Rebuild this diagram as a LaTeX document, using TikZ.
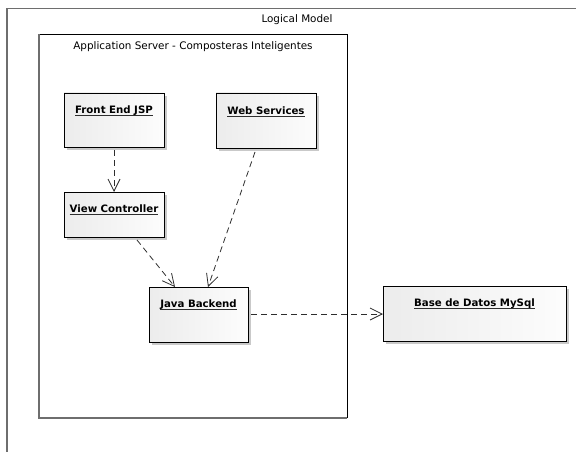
\documentclass[tikz,border=0pt]{standalone}
\usepackage{fontspec}
\setmainfont{DejaVu Sans}
\usetikzlibrary{arrows.meta,shadows,calc}
\definecolor{framegray}{HTML}{6E6E6E}
\definecolor{linegray}{HTML}{2E2E2E}
% bold text with a heavy underline
\newcommand\ulabel[1]{\setbox0\hbox{\bfseries #1}\rlap{\usebox0}\textcolor{linegray}{\rule[-2.6pt]{\wd0}{1.2pt}}}
\tikzset{
  comp/.style={draw=black, line width=0.8pt, inner sep=0pt, outer sep=0pt,
    left color=gray!15, right color=gray!2,
    drop shadow={shadow xshift=3pt, shadow yshift=-3pt, fill=gray!50, opacity=0.85}},
  complabel/.style={anchor=base, inner sep=0pt, font=\fontsize{10.2pt}{12pt}\selectfont},
  title/.style={inner sep=0pt, font=\fontsize{10.4pt}{12pt}\selectfont},
  dep/.style={draw=linegray, line width=0.8pt, dash pattern=on 6pt off 4pt,
    -{Straight Barb[length=12pt, width=12pt, line width=0.8pt]}}
}
\begin{document}
\begin{tikzpicture}[x=1pt, y=-1pt]
  \useasboundingbox (0,0) rectangle (576,452);
  \begin{scope}
    \clip (0,0) rectangle (576,452);
    % outer package frame (runs past the right and bottom edges)
    \draw[framegray, line width=1.4pt] (7,8.5) rectangle (600,480);
  \end{scope}
  \node[title] (lm) at (297,20) {Logical Model};

  % application server container
  \draw[black, line width=0.8pt] (39,34) -- (347,34) -- (347,418);
  \draw[framegray, line width=1.4pt] (347,418) -- (39,418) -- (39,34);
  \node[title] (as) at (193,47) {Application Server - Composteras Inteligentes};

  % components
  \node[comp, minimum width=100pt, minimum height=54pt] (fe) at (114,120) {};
  \node[comp, minimum width=100pt, minimum height=45pt] (vc) at (114,214.5) {};
  \node[comp, minimum width=100pt, minimum height=55pt] (ws) at (266,120.5) {};
  \node[comp, minimum width=99pt, minimum height=55pt] (jb) at (198.5,314.5) {};
  \node[comp, minimum width=183pt, minimum height=55pt] (db) at (474.5,313.5) {};

  \node[complabel] (fel) at ($(fe.north)+(0,20.5)$) {\ulabel{Front End JSP}};
  \node[complabel] (vcl) at ($(vc.north)+(0,20.5)$) {\ulabel{View Controller}};
  \node[complabel] (wsl) at ($(ws.north)+(0,21.5)$) {\ulabel{Web Services}};
  \node[complabel] (jbl) at ($(jb.north)+(0,20.5)$) {\ulabel{Java Backend}};
  \node[complabel] (dbl) at ($(db.north)+(0,20.5)$) {\ulabel{Base de Datos MySql}};

  % dependencies
  \draw[dep] ($(fe.south)+(0,3)$) -- (vc.north);
  \draw[dep] ($(vc.south)+(23,3)$) -- ($(jb.north)+(-23.5,0)$);
  \draw[dep] ($(ws.south)+(-11,4)$) -- ($(jb.north)+(9.5,0)$);
  \draw[dep] ($(jb.east)+(3,-0.5)$) -- ($(db.west)+(0,0.5)$);
\end{tikzpicture}
\end{document}
